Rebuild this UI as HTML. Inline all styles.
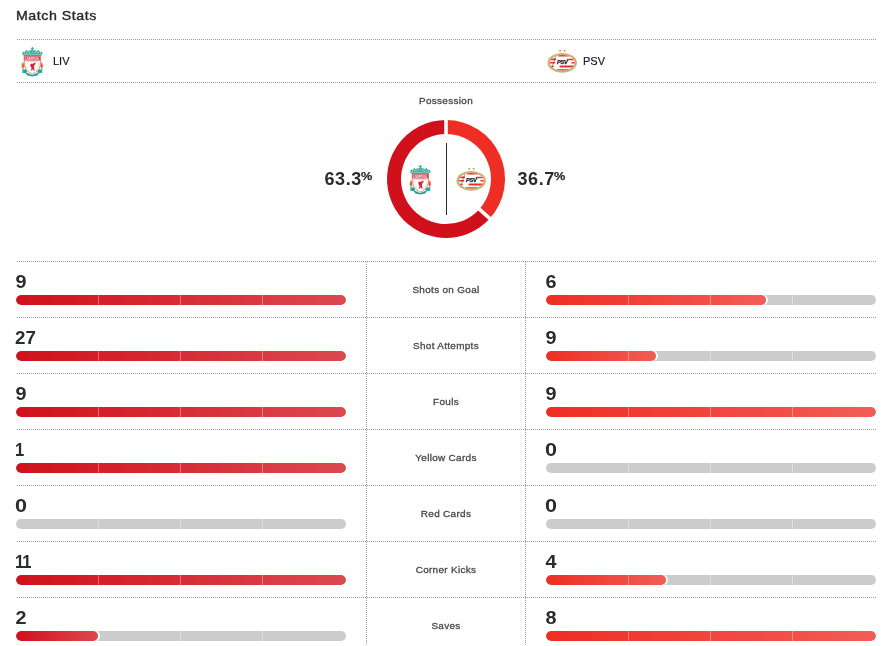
<!DOCTYPE html>
<html lang="en"><head><meta charset="utf-8"><title>Match Stats</title>
<style>
html,body{margin:0;padding:0;background:#fff;}
body{width:882px;height:646px;position:relative;overflow:hidden;font-family:"Liberation Sans",Arial,sans-serif;color:#2b2c2d;}
.abs{position:absolute;white-space:nowrap;}
.hl{position:absolute;left:16px;width:860px;height:1px;background:repeating-linear-gradient(90deg,#fff 0,#fff 1px,#9a9a9a 1px,#9a9a9a 2px);}
.vl{position:absolute;width:1px;top:262px;height:384px;background:repeating-linear-gradient(180deg,#9a9a9a 0,#9a9a9a 1px,#fff 1px,#fff 2px);}
.logo{position:absolute;display:block;}
h1{position:absolute;left:15.6px;top:7.7px;margin:0;font-size:13px;line-height:16px;font-weight:400;color:#2b2c2d;-webkit-text-stroke:0.4px #2b2c2d;letter-spacing:0.5px;transform:scaleX(1.09);transform-origin:0 0;white-space:nowrap;}
.team{position:absolute;top:54px;font-size:11px;line-height:14px;color:#151617;-webkit-text-stroke:0.15px #151617;}
.poslab{position:absolute;left:366px;width:160px;text-align:center;top:94.6px;font-size:9.4px;line-height:12px;color:#48494a;letter-spacing:0.3px;-webkit-text-stroke:0.3px #48494a;transform:scaleX(1.06);}
.pct{position:absolute;top:168px;font-size:18px;line-height:22px;font-weight:700;color:#2b2c2d;letter-spacing:0.6px;}
.pct sup{display:inline-block;font-size:11px;line-height:0;vertical-align:baseline;position:relative;top:-5px;letter-spacing:0;margin-left:-0.8px;transform:scaleX(1.16);transform-origin:0 0;-webkit-text-stroke:0.25px #2b2c2d;}
.num{position:absolute;font-size:18px;line-height:20px;font-weight:700;color:#2b2c2d;transform:translateX(-0.5px) scaleX(1.1);transform-origin:0 0;}
.n0{transform:scaleX(1.2);margin-left:-1.15px;}
.n1{transform:scaleX(0.92);letter-spacing:-1.2px;margin-left:-1.3px;}
.n27{transform:scaleX(1.04);margin-left:-1.1px;}
.lab{position:absolute;left:367px;width:158px;text-align:center;font-size:9.4px;line-height:12px;color:#48494a;letter-spacing:0.3px;-webkit-text-stroke:0.3px #48494a;transform:scaleX(1.06);}
.bar{position:absolute;width:330px;height:10px;border-radius:5px;background:#cbcdcc;overflow:hidden;}
.fill{position:absolute;left:0;top:0;height:10px;border-radius:5px;box-shadow:2px 0 0 #fff;}
.fl{background:linear-gradient(90deg,#d0111b,#dc4850);}
.fr{background:linear-gradient(90deg,#ee2e24,#f15d56);}
.tk{position:absolute;top:0;width:1px;height:10px;background:rgba(255,255,255,0.35);}
</style></head><body>
<svg width="0" height="0" style="position:absolute"><defs><filter id="soft" x="-5%" y="-5%" width="110%" height="110%"><feGaussianBlur stdDeviation="0.28"/></filter></defs></svg>
<h1>Match Stats</h1>
<div class="hl" style="top:39px"></div>
<div class="hl" style="top:82px"></div>
<svg class="logo" style="left:16px;top:45px" width="32" height="32" viewBox="0 0 32 32">
<g filter="url(#soft)">
<path d="M8 11.1 L6.5 9.7 L6.2 8 L7.4 6.4 L8.4 7.4 L9.4 5.8 L10.8 5 L11.9 6.4 L13.4 5.2 L14.6 5.6 L15.7 4.4 L15.7 3.7 L14.6 3.7 L14.6 2.9 L15.7 2.9 L15.8 2 L16.9 2 L17 2.9 L18.1 2.9 L18.1 3.7 L17 3.7 L17 4.4 L18.1 5.6 L19.3 5.2 L20.8 6.4 L21.9 5 L23.3 5.8 L24.3 7.4 L25.3 6.4 L26.5 8 L26.2 9.7 L24.7 11.1 Z" fill="#3aab98"/>
<g fill="#fff" opacity="0.8"><circle cx="10.7" cy="7.5" r="0.65"/><circle cx="13.5" cy="7.2" r="0.65"/><circle cx="19.2" cy="7.2" r="0.65"/><circle cx="22" cy="7.5" r="0.65"/><circle cx="8.2" cy="8.5" r="0.5"/><circle cx="24.5" cy="8.5" r="0.5"/><circle cx="16.35" cy="6.5" r="0.6"/><rect x="7.2" y="9.2" width="18.3" height="0.4"/><circle cx="12.1" cy="8.3" r="0.4"/><circle cx="20.6" cy="8.3" r="0.4"/><circle cx="14.9" cy="8.2" r="0.4"/><circle cx="17.8" cy="8.2" r="0.4"/></g>
<path d="M8.1 11.2 H24.6 L24.4 19 C24.2 23.4 21.4 27 16.35 29 C11.3 27 8.5 23.4 8.3 19 Z" fill="#fdfdfd" stroke="#d4606a" stroke-width="0.7"/>
<path d="M8.3 11.4 H24.4 L24.35 15.4 H8.35 Z" fill="#d23945"/>
<text x="16.35" y="14.5" font-family="'Liberation Sans',sans-serif" font-weight="700" font-size="3" text-anchor="middle" fill="#ffffff" textLength="14" lengthAdjust="spacingAndGlyphs">LIVERPOOL</text>
<rect x="10.4" y="16.3" width="11.8" height="0.5" fill="#e6a3a8"/>
<path d="M9.3 17.4 C9.6 21.6 11.6 24.6 14 26.6 M23.3 17.4 C23 21.6 21 24.6 18.6 26.6" fill="none" stroke="#e9b4b8" stroke-width="0.45"/>
<path d="M14.9 25.5 L15.6 23 L14.4 21.2 L14.3 19.4 L15.3 18.4 L16.3 19 L17.6 18.2 L20 17.5 L19 19.5 L18 20.9 L18 22.8 L18.7 25.5 L17.4 25.5 L16.8 23.8 L16.2 25.5 Z" fill="#cf2a36"/>
<path d="M5.7 22.5 C5.2 20.6 5.8 18.6 7 17 C8.1 18.6 8.7 20.6 8.2 22.5 Z" fill="#f0793a"/>
<path d="M26.9 22.5 C27.4 20.6 26.8 18.6 25.6 17 C24.5 18.6 23.9 20.6 24.4 22.5 Z" fill="#f0793a"/>
<path d="M6.5 22 C6.3 21 6.6 20 7 19.2 C7.4 20 7.6 21 7.4 22 Z M25.2 22 C25 21 25.3 20 25.7 19.2 C26.1 20 26.3 21 26.1 22 Z" fill="#e2403a"/>
<path d="M6.3 22.5 H7.6 V24.6 H6.3 Z M25 22.5 H26.3 V24.6 H25 Z" fill="#35a896"/>
<path d="M5.8 25.3 L9.4 24.3 L11.2 26.3 L10.5 27.5 L12.6 28.6 L16.3 30 L20 28.6 L22.1 27.5 L21.4 26.3 L23.2 24.3 L26.8 25.3 L25.8 26.6 L26.6 27.8 L23 28.1 L21.3 30.4 L16.3 31.4 L11.3 30.4 L9.6 28.1 L6 27.8 L6.8 26.6 Z" fill="#2aa08e"/>
</g>
</svg><div class="team" style="left:53px">LIV</div>
<svg class="logo" style="left:546px;top:45px" width="32" height="32" viewBox="0 0 32 32">
<defs><clipPath id="c1"><ellipse cx="16.2" cy="17.8" rx="12.4" ry="7.7"/></clipPath></defs>
<g filter="url(#soft)">
<circle cx="14.1" cy="5.8" r="0.95" fill="#bd9c55"/><circle cx="18.6" cy="5.8" r="0.95" fill="#bd9c55"/>
<ellipse cx="16.2" cy="17.8" rx="14.7" ry="9.9" fill="#ccb274"/>
<ellipse cx="16.2" cy="17.8" rx="12.4" ry="7.7" fill="#ffffff"/>
<g clip-path="url(#c1)" fill="#ee2e34">
<rect x="11.8" y="9.9" width="11.4" height="1.5" rx="0.7"/>
<rect x="3" y="13.6" width="7" height="1.6" rx="0.5"/>
<rect x="20.6" y="13.7" width="8" height="1.5" rx="0.75"/>
<rect x="3" y="17.0" width="6.4" height="1.6" rx="0.5"/>
<rect x="25.2" y="17.1" width="5" height="1.4" rx="0.7"/>
<rect x="3" y="20.7" width="4.6" height="1.5" rx="0.5"/>
<rect x="13.4" y="20.6" width="15" height="1.8" rx="0.9"/>
<rect x="10.6" y="24.3" width="13.6" height="1.7" rx="0.8"/>
<path d="M10.5 9 L5.4 24.6" stroke="#444" stroke-width="0.55" fill="none"/>
</g>
<text x="16.2" y="19.3" font-family="'Liberation Sans',sans-serif" font-weight="700" font-style="italic" font-size="5.7" text-anchor="middle" fill="#1a1a1a" stroke="#1a1a1a" stroke-width="0.25" letter-spacing="-0.35">PSV</text>
</g>
</svg><div class="team" style="left:583px">PSV</div>
<div class="poslab">Possession</div>
<svg class="logo" style="left:0;top:0" width="882" height="260" viewBox="0 0 882 260">
<path d="M446.00 127.00 A52.0 52.0 0 0 1 484.57 213.88" fill="none" stroke="#ee2e24" stroke-width="14"/><path d="M484.57 213.88 A52.0 52.0 0 1 1 446.00 127.00" fill="none" stroke="#d0111b" stroke-width="14"/><path d="M446.00 136.00 L446.00 118.00" stroke="#fff" stroke-width="3.6" fill="none"/><path d="M477.89 207.84 L491.25 219.91" stroke="#fff" stroke-width="3.6" fill="none"/>
<rect x="446" y="143" width="1" height="72" fill="#2b2c2d"/>
</svg>
<svg class="logo" style="left:404px;top:163px" width="32" height="32" viewBox="0 0 32 32">
<g filter="url(#soft)">
<path d="M8 11.1 L6.5 9.7 L6.2 8 L7.4 6.4 L8.4 7.4 L9.4 5.8 L10.8 5 L11.9 6.4 L13.4 5.2 L14.6 5.6 L15.7 4.4 L15.7 3.7 L14.6 3.7 L14.6 2.9 L15.7 2.9 L15.8 2 L16.9 2 L17 2.9 L18.1 2.9 L18.1 3.7 L17 3.7 L17 4.4 L18.1 5.6 L19.3 5.2 L20.8 6.4 L21.9 5 L23.3 5.8 L24.3 7.4 L25.3 6.4 L26.5 8 L26.2 9.7 L24.7 11.1 Z" fill="#3aab98"/>
<g fill="#fff" opacity="0.8"><circle cx="10.7" cy="7.5" r="0.65"/><circle cx="13.5" cy="7.2" r="0.65"/><circle cx="19.2" cy="7.2" r="0.65"/><circle cx="22" cy="7.5" r="0.65"/><circle cx="8.2" cy="8.5" r="0.5"/><circle cx="24.5" cy="8.5" r="0.5"/><circle cx="16.35" cy="6.5" r="0.6"/><rect x="7.2" y="9.2" width="18.3" height="0.4"/><circle cx="12.1" cy="8.3" r="0.4"/><circle cx="20.6" cy="8.3" r="0.4"/><circle cx="14.9" cy="8.2" r="0.4"/><circle cx="17.8" cy="8.2" r="0.4"/></g>
<path d="M8.1 11.2 H24.6 L24.4 19 C24.2 23.4 21.4 27 16.35 29 C11.3 27 8.5 23.4 8.3 19 Z" fill="#fdfdfd" stroke="#d4606a" stroke-width="0.7"/>
<path d="M8.3 11.4 H24.4 L24.35 15.4 H8.35 Z" fill="#d23945"/>
<text x="16.35" y="14.5" font-family="'Liberation Sans',sans-serif" font-weight="700" font-size="3" text-anchor="middle" fill="#ffffff" textLength="14" lengthAdjust="spacingAndGlyphs">LIVERPOOL</text>
<rect x="10.4" y="16.3" width="11.8" height="0.5" fill="#e6a3a8"/>
<path d="M9.3 17.4 C9.6 21.6 11.6 24.6 14 26.6 M23.3 17.4 C23 21.6 21 24.6 18.6 26.6" fill="none" stroke="#e9b4b8" stroke-width="0.45"/>
<path d="M14.9 25.5 L15.6 23 L14.4 21.2 L14.3 19.4 L15.3 18.4 L16.3 19 L17.6 18.2 L20 17.5 L19 19.5 L18 20.9 L18 22.8 L18.7 25.5 L17.4 25.5 L16.8 23.8 L16.2 25.5 Z" fill="#cf2a36"/>
<path d="M5.7 22.5 C5.2 20.6 5.8 18.6 7 17 C8.1 18.6 8.7 20.6 8.2 22.5 Z" fill="#f0793a"/>
<path d="M26.9 22.5 C27.4 20.6 26.8 18.6 25.6 17 C24.5 18.6 23.9 20.6 24.4 22.5 Z" fill="#f0793a"/>
<path d="M6.5 22 C6.3 21 6.6 20 7 19.2 C7.4 20 7.6 21 7.4 22 Z M25.2 22 C25 21 25.3 20 25.7 19.2 C26.1 20 26.3 21 26.1 22 Z" fill="#e2403a"/>
<path d="M6.3 22.5 H7.6 V24.6 H6.3 Z M25 22.5 H26.3 V24.6 H25 Z" fill="#35a896"/>
<path d="M5.8 25.3 L9.4 24.3 L11.2 26.3 L10.5 27.5 L12.6 28.6 L16.3 30 L20 28.6 L22.1 27.5 L21.4 26.3 L23.2 24.3 L26.8 25.3 L25.8 26.6 L26.6 27.8 L23 28.1 L21.3 30.4 L16.3 31.4 L11.3 30.4 L9.6 28.1 L6 27.8 L6.8 26.6 Z" fill="#2aa08e"/>
</g>
</svg><svg class="logo" style="left:455px;top:163px" width="32" height="32" viewBox="0 0 32 32">
<defs><clipPath id="c2"><ellipse cx="16.2" cy="17.8" rx="12.4" ry="7.7"/></clipPath></defs>
<g filter="url(#soft)">
<circle cx="14.1" cy="5.8" r="0.95" fill="#bd9c55"/><circle cx="18.6" cy="5.8" r="0.95" fill="#bd9c55"/>
<ellipse cx="16.2" cy="17.8" rx="14.7" ry="9.9" fill="#ccb274"/>
<ellipse cx="16.2" cy="17.8" rx="12.4" ry="7.7" fill="#ffffff"/>
<g clip-path="url(#c2)" fill="#ee2e34">
<rect x="11.8" y="9.9" width="11.4" height="1.5" rx="0.7"/>
<rect x="3" y="13.6" width="7" height="1.6" rx="0.5"/>
<rect x="20.6" y="13.7" width="8" height="1.5" rx="0.75"/>
<rect x="3" y="17.0" width="6.4" height="1.6" rx="0.5"/>
<rect x="25.2" y="17.1" width="5" height="1.4" rx="0.7"/>
<rect x="3" y="20.7" width="4.6" height="1.5" rx="0.5"/>
<rect x="13.4" y="20.6" width="15" height="1.8" rx="0.9"/>
<rect x="10.6" y="24.3" width="13.6" height="1.7" rx="0.8"/>
<path d="M10.5 9 L5.4 24.6" stroke="#444" stroke-width="0.55" fill="none"/>
</g>
<text x="16.2" y="19.3" font-family="'Liberation Sans',sans-serif" font-weight="700" font-style="italic" font-size="5.7" text-anchor="middle" fill="#1a1a1a" stroke="#1a1a1a" stroke-width="0.25" letter-spacing="-0.35">PSV</text>
</g>
</svg><div class="pct" style="left:324.5px">63.3<sup>%</sup></div>
<div class="pct" style="left:517.5px">36.7<sup>%</sup></div>
<div class="vl" style="left:366px"></div><div class="vl" style="left:525px"></div>
<div class="hl" style="top:261px"></div>
<div class="num" style="left:16px;top:272px">9</div>
<div class="num" style="left:546px;top:272px">6</div>
<div class="lab" style="top:284px">Shots on Goal</div>
<div class="bar" style="left:16px;top:295px"><div class="fill fl" style="width:330px"></div><div class="tk" style="left:82px"></div><div class="tk" style="left:164px"></div><div class="tk" style="left:246px"></div></div>
<div class="bar" style="left:546px;top:295px"><div class="fill fr" style="width:220px"></div><div class="tk" style="left:82px"></div><div class="tk" style="left:164px"></div><div class="tk" style="left:246px"></div></div>
<div class="hl" style="top:317px"></div>
<div class="num n27" style="left:16px;top:328px">27</div>
<div class="num" style="left:546px;top:328px">9</div>
<div class="lab" style="top:340px">Shot Attempts</div>
<div class="bar" style="left:16px;top:351px"><div class="fill fl" style="width:330px"></div><div class="tk" style="left:82px"></div><div class="tk" style="left:164px"></div><div class="tk" style="left:246px"></div></div>
<div class="bar" style="left:546px;top:351px"><div class="fill fr" style="width:110px"></div><div class="tk" style="left:82px"></div><div class="tk" style="left:164px"></div><div class="tk" style="left:246px"></div></div>
<div class="hl" style="top:373px"></div>
<div class="num" style="left:16px;top:384px">9</div>
<div class="num" style="left:546px;top:384px">9</div>
<div class="lab" style="top:396px">Fouls</div>
<div class="bar" style="left:16px;top:407px"><div class="fill fl" style="width:330px"></div><div class="tk" style="left:82px"></div><div class="tk" style="left:164px"></div><div class="tk" style="left:246px"></div></div>
<div class="bar" style="left:546px;top:407px"><div class="fill fr" style="width:330px"></div><div class="tk" style="left:82px"></div><div class="tk" style="left:164px"></div><div class="tk" style="left:246px"></div></div>
<div class="hl" style="top:429px"></div>
<div class="num n1" style="left:16px;top:440px">1</div>
<div class="num n0" style="left:546px;top:440px">0</div>
<div class="lab" style="top:452px">Yellow Cards</div>
<div class="bar" style="left:16px;top:463px"><div class="fill fl" style="width:330px"></div><div class="tk" style="left:82px"></div><div class="tk" style="left:164px"></div><div class="tk" style="left:246px"></div></div>
<div class="bar" style="left:546px;top:463px"><div class="tk" style="left:82px"></div><div class="tk" style="left:164px"></div><div class="tk" style="left:246px"></div></div>
<div class="hl" style="top:485px"></div>
<div class="num n0" style="left:16px;top:496px">0</div>
<div class="num n0" style="left:546px;top:496px">0</div>
<div class="lab" style="top:508px">Red Cards</div>
<div class="bar" style="left:16px;top:519px"><div class="tk" style="left:82px"></div><div class="tk" style="left:164px"></div><div class="tk" style="left:246px"></div></div>
<div class="bar" style="left:546px;top:519px"><div class="tk" style="left:82px"></div><div class="tk" style="left:164px"></div><div class="tk" style="left:246px"></div></div>
<div class="hl" style="top:541px"></div>
<div class="num n1" style="left:16px;top:552px">11</div>
<div class="num" style="left:546px;top:552px">4</div>
<div class="lab" style="top:564px">Corner Kicks</div>
<div class="bar" style="left:16px;top:575px"><div class="fill fl" style="width:330px"></div><div class="tk" style="left:82px"></div><div class="tk" style="left:164px"></div><div class="tk" style="left:246px"></div></div>
<div class="bar" style="left:546px;top:575px"><div class="fill fr" style="width:120px"></div><div class="tk" style="left:82px"></div><div class="tk" style="left:164px"></div><div class="tk" style="left:246px"></div></div>
<div class="hl" style="top:597px"></div>
<div class="num" style="left:16px;top:608px">2</div>
<div class="num" style="left:546px;top:608px">8</div>
<div class="lab" style="top:620px">Saves</div>
<div class="bar" style="left:16px;top:631px"><div class="fill fl" style="width:82px"></div><div class="tk" style="left:82px"></div><div class="tk" style="left:164px"></div><div class="tk" style="left:246px"></div></div>
<div class="bar" style="left:546px;top:631px"><div class="fill fr" style="width:330px"></div><div class="tk" style="left:82px"></div><div class="tk" style="left:164px"></div><div class="tk" style="left:246px"></div></div>
</body></html>
